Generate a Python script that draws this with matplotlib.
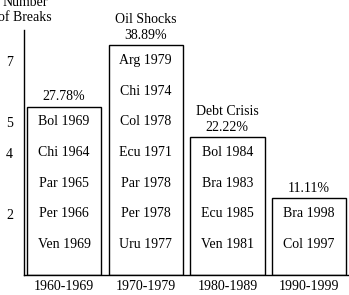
import matplotlib
matplotlib.use("Agg")
import matplotlib.pyplot as plt
import numpy as np

decades = ["1960-1969", "1970-1979", "1980-1989", "1990-1999"]
breaks = [
    ["Bol 1969", "Chi 1964", "Par 1965", "Per 1966", "Ven 1969"],
    ["Arg 1979", "Chi 1974", "Col 1978", "Ecu 1971", "Par 1978", "Per 1978", "Uru 1977"],
    ["Bol 1984", "Bra 1983", "Ecu 1985", "Ven 1981"],
    ["Bra 1998", "Col 1997"],
]
titles = ["", "Oil Shocks", "Debt Crisis", ""]
yticks = [2, 4, 5, 7]

plt.rcParams['font.family'] = ['Liberation Serif', 'DejaVu Serif']
plt.rcParams['font.size'] = 10

total = sum(len(b) for b in breaks)
counts = np.array([len(b) for b in breaks])
x = np.arange(len(decades))

fig = plt.figure(figsize=(3.49, 2.95), dpi=100)
ax = fig.add_axes([0.069, 0.068, 0.931, 0.83])

ax.bar(x, counts + 0.5, width=0.91, facecolor='white', edgecolor='black', linewidth=1.0)

for i, names in enumerate(breaks):
    n = len(names)
    for j, name in enumerate(names):
        ax.text(x[i], n - j, name, ha='center', va='center')
    pct = '{:.2f}%'.format(100.0 * n / total)
    label = pct if titles[i] == "" else titles[i] + "\n" + pct
    ax.text(x[i], n + 0.5 + 0.12, label, ha='center', va='bottom', linespacing=1.25)

ax.set_xlim(-0.49, 3.49)
ax.set_ylim(0, 8)
ax.set_xticks(x)
ax.set_xticklabels(decades)
ax.set_yticks(yticks)
ax.tick_params(length=0)
ax.tick_params(axis='y', pad=8)
ax.tick_params(axis='x', pad=4)
for s in ['top', 'right']:
    ax.spines[s].set_visible(False)
ax.spines['left'].set_linewidth(1.0)
ax.spines['bottom'].set_linewidth(1.0)

fig.text(25 / 349, 1 - 10 / 295, "Number\nof Breaks", ha='center', va='center',
         multialignment='center', linespacing=1.25)

fig.savefig("out.png", dpi=100)
